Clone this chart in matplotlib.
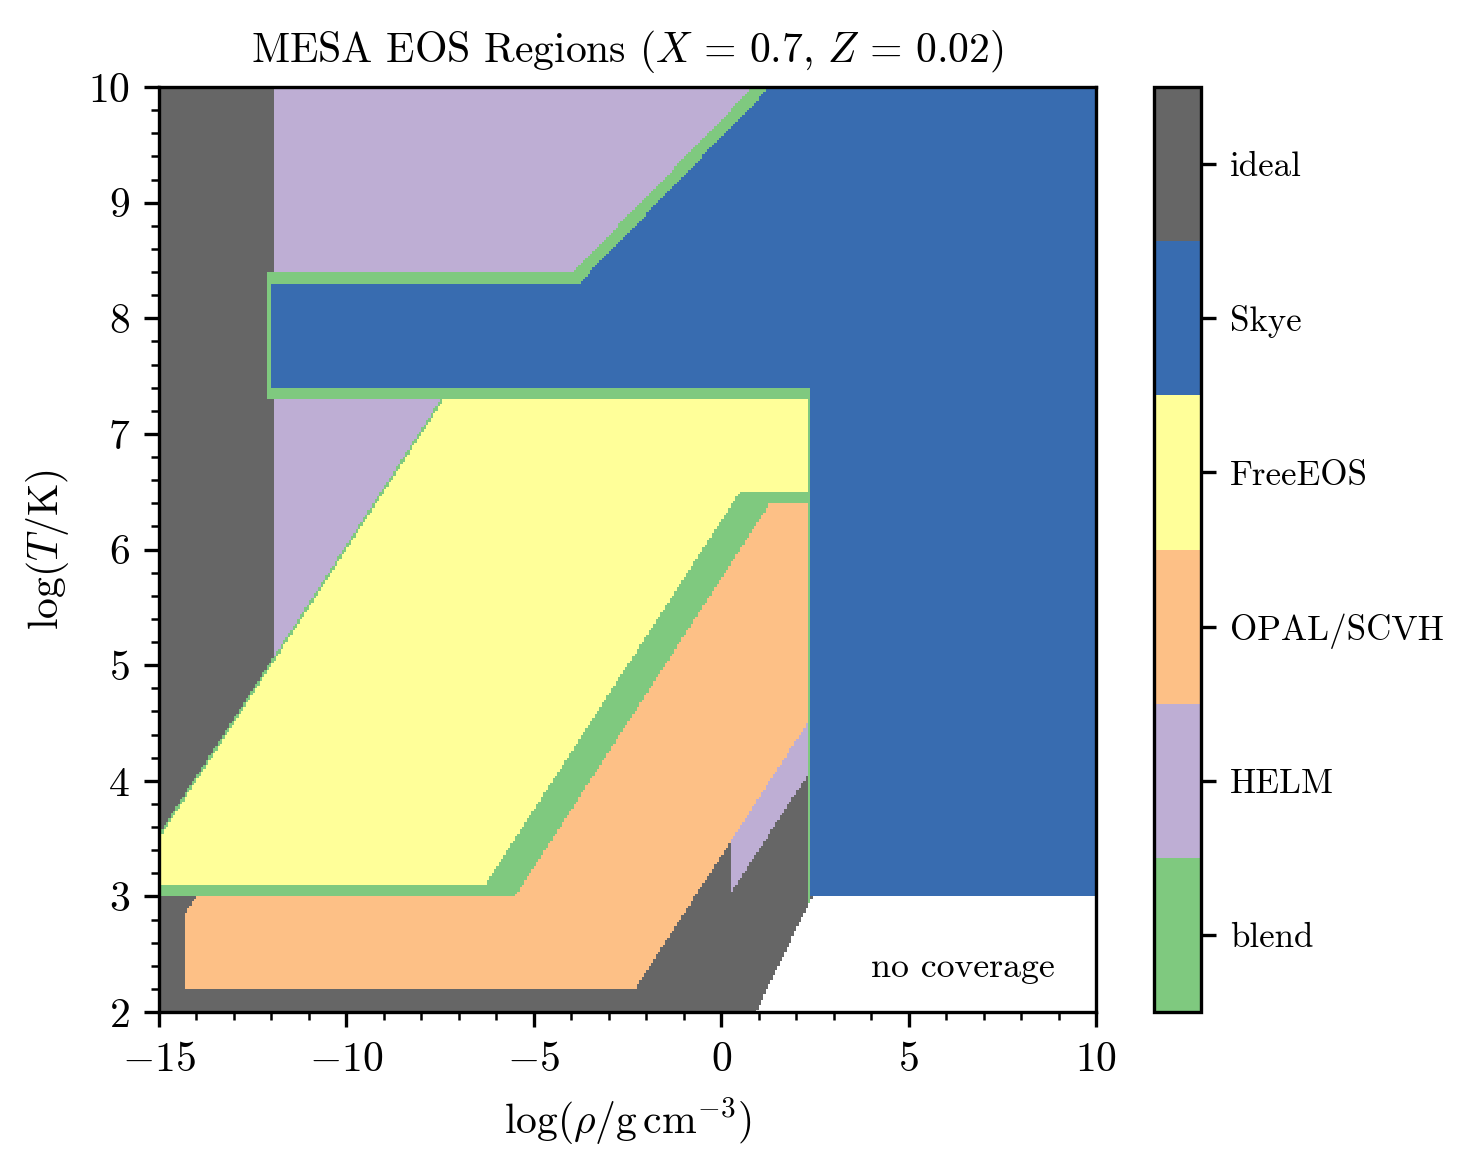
import numpy as np
import matplotlib
matplotlib.use("Agg")
import matplotlib.pyplot as plt
from matplotlib.colors import ListedColormap

plt.rcParams['font.family'] = 'serif'
plt.rcParams['font.serif'] = ['cmr10']
plt.rcParams['mathtext.fontset'] = 'cm'
plt.rcParams['axes.formatter.use_mathtext'] = True
plt.rcParams['font.size'] = 10

# region ids / colours (colorbar order bottom -> top)
region_names = ['blend', 'HELM', 'OPAL/SCVH', 'FreeEOS', 'Skye', 'ideal']
region_colors = ['#7fc97f', '#beaed4', '#fdc086', '#ffff99', '#386cb0', '#666666']

# boundaries
# Q = logRho - 2 logT + 12, G = logRho - 3 logT, D = logRho - 1.5 logT
ideal_D_max = -2.07
helm_logRho_min = -11.95
helm_logT_min = 5.0
helm_low_logRho_min = 0.28
helm_low_Q = [5.3, 6.2]
opal_logRho = [-14.3, 2.31]
opal_logT = [2.2, 6.4]
opal_Q = [-8.0, 5.3]
free_logT = [3.0, 3.1, 6.4, 6.5, 7.3]
free_Q = [-10.08, -10.0, -0.5, 0.5]
free_logRho_max = 2.31
skye_logT = [7.3, 7.4, 8.3, 8.4]
skye_logRho_left = [-12.1, -12.02]
skye_logRho_right = [2.31, 2.39]
skye_G = [-29.15, -28.7]
skye_logT_min = 3.0

# grid
rho_edges = np.linspace(-15, 10, 401)
t_edges = np.linspace(2, 10, 401)
R, T = np.meshgrid(0.5*(rho_edges[1:] + rho_edges[:-1]),
                   0.5*(t_edges[1:] + t_edges[:-1]))
Q = R - 2*T + 12
G = R - 3*T
D = R - 1.5*T

ids = np.full(R.shape, np.nan)

# ideal
ids[D < ideal_D_max] = 5

# HELM
helm = ((R > helm_logRho_min) & (T > helm_logT_min)) | \
       ((R > helm_low_logRho_min) & (Q > helm_low_Q[0]) & (Q < helm_low_Q[1]))
ids[helm] = 1

# OPAL/SCVH
opal = (R > opal_logRho[0]) & (R < opal_logRho[1]) & (T > opal_logT[0]) & \
       (T < opal_logT[1]) & (Q > opal_Q[0]) & (Q < opal_Q[1])
ids[opal] = 2

# FreeEOS
free = (T > free_logT[1]) & (T < free_logT[4]) & (Q > free_Q[1]) & \
       (R < free_logRho_max) & ((Q < free_Q[2]) | (T > free_logT[3]))
ids[free] = 3

# FreeEOS blends
b1 = (R < free_logRho_max) & (((Q > free_Q[2]) & (Q < free_Q[3]) & (T > free_logT[0]) & (T < free_logT[3])) |
                              ((T > free_logT[2]) & (T < free_logT[3]) & (Q > free_Q[2])))
b2 = (T > free_logT[0]) & (T < free_logT[1]) & (Q < free_Q[2])
b3 = (Q > free_Q[0]) & (Q < free_Q[1]) & (T > free_logT[0]) & (T < free_logT[4])
ids[b1 | b2 | b3] = 0

# Skye
skye = ((T > skye_logT[1]) & (R > skye_logRho_left[1]) & ((T < skye_logT[2]) | (G > skye_G[1]))) | \
       ((R > skye_logRho_right[1]) & (T > skye_logT_min))
ids[skye] = 4

# Skye blends
s1 = (R > skye_logRho_left[0]) & (T > skye_logT[2]) & (G < skye_G[1]) & \
     ((T < skye_logT[3]) | (G > skye_G[0]))
s2 = (T > skye_logT[0]) & (T < skye_logT[1]) & (R > skye_logRho_left[0]) & (R < skye_logRho_right[1])
s3 = (R > skye_logRho_left[0]) & (R < skye_logRho_left[1]) & (T > skye_logT[0]) & (T < skye_logT[3])
s4 = (R > skye_logRho_right[0]) & (R < skye_logRho_right[1]) & (T < skye_logT[1]) & (D < ideal_D_max)
ids[s1 | s2 | s3 | s4] = 0

fig = plt.figure(figsize=(1468/300, 1170/300), dpi=300)
ax = fig.add_axes([0.1083, 0.135, 0.6383, 0.7906])
cmap = ListedColormap(region_colors)
mesh = ax.pcolormesh(rho_edges, t_edges, np.ma.masked_invalid(ids), cmap=cmap,
                     vmin=-0.5, vmax=5.5, rasterized=True)

ax.set_xlim(-15, 10)
ax.set_ylim(2, 10)
ax.set_xticks([-15, -10, -5, 0, 5, 10])
ax.set_xticks(np.arange(-15, 11, 1), minor=True)
ax.set_yticks(np.arange(2, 11, 1))
ax.set_yticks(np.arange(2, 10.01, 0.2), minor=True)
ax.set_xlabel(r'$\log(\rho/{\rm g\,cm^{-3}})$')
ax.set_ylabel(r'$\log(T/{\rm K})$')
ax.set_title(r'MESA EOS Regions ($X\,=\,0.7$, $Z\,=\,0.02$)', fontsize=10)
ax.text(6.45, 2.38, 'no coverage', ha='center', va='center', fontsize=8.6)

cax = fig.add_axes([0.7861, 0.135, 0.032, 0.7906])
cbar = fig.colorbar(mesh, cax=cax, ticks=range(6))
cbar.ax.set_yticklabels(region_names, fontsize=8.4)
cbar.ax.minorticks_off()

fig.savefig('out.png', dpi=300)
